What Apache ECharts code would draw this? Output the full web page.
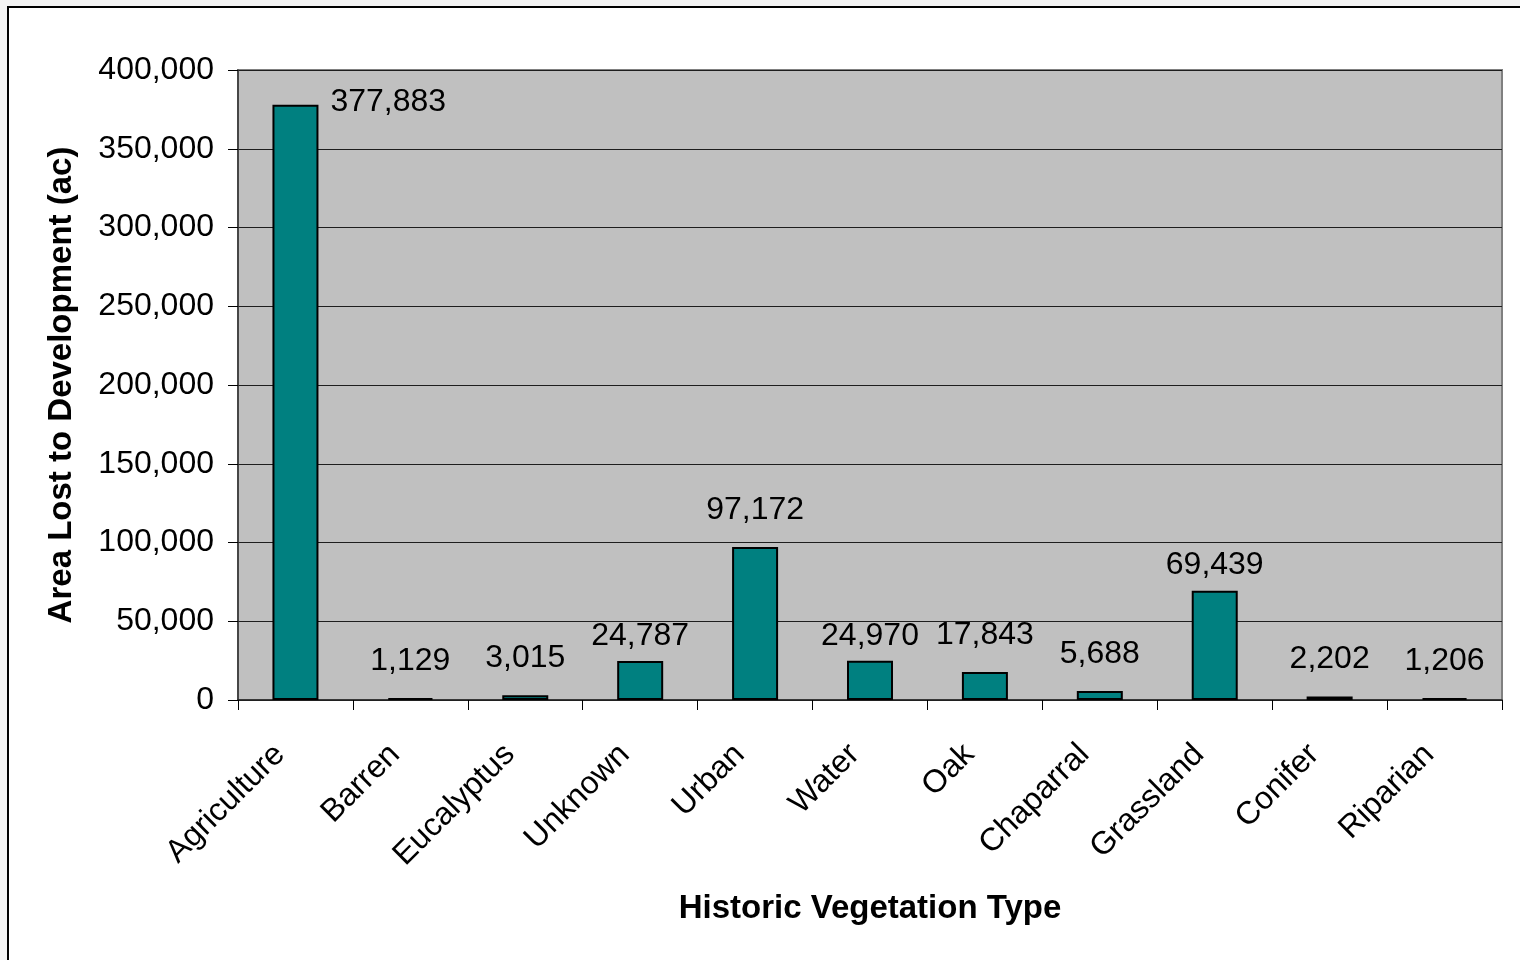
<!DOCTYPE html>
<html>
<head>
<meta charset="utf-8">
<title>Area Lost to Development by Historic Vegetation Type</title>
<script src="https://cdn.jsdelivr.net/npm/echarts@6/dist/echarts.min.js"></script>
<style>
  html, body { margin: 0; padding: 0; background: #f3f3f3; }
  #chart { width: 1520px; height: 960px; }
</style>
</head>
<body>
<div id="chart"></div>
<script>
const CATEGORIES = [
  "Agriculture", "Barren", "Eucalyptus", "Unknown", "Urban", "Water",
  "Oak", "Chaparral", "Grassland", "Conifer", "Riparian"
];
const AREA_LOST = [377883, 1129, 3015, 24787, 97172, 24970, 17843, 5688, 69439, 2202, 1206];
const Y_TICKS = [0, 50000, 100000, 150000, 200000, 250000, 300000, 350000, 400000];

const FONT = '"Liberation Sans", Arial, sans-serif';
const BAR_COLOR = "#008080";
const PLOT_BG = "#C0C0C0";

// labels that sit closer to their bar in the original
const CLOSE_LABELS = new Set(["Unknown", "Water", "Grassland"]);

const fmt = (v) => v.toLocaleString("en-US");

const chart = echarts.init(document.getElementById("chart"), null, { renderer: "canvas" });

const barData = AREA_LOST.map((value, i) => {
  const name = CATEGORIES[i];
  if (i === 0) {
    return {
      value,
      label: { position: [58, -3], align: "left", verticalAlign: "middle" },
    };
  }
  return {
    value,
    label: { distance: CLOSE_LABELS.has(name) ? 9 : 21 },
  };
});

chart.setOption({
  backgroundColor: "transparent",
  animation: false,
  graphic: [
    {
      type: "rect",
      z: -10,
      silent: true,
      shape: { x: 8, y: 7, width: 1540, height: 990 },
      style: { fill: "#ffffff", stroke: "#000000", lineWidth: 2 },
    },
  ],
  grid: {
    left: 238,
    right: 18,
    top: 70,
    bottom: 260,
    containLabel: false,
    show: true,
    backgroundColor: PLOT_BG,
    borderColor: "#808080",
    borderWidth: 2,
  },
  xAxis: {
    type: "category",
    data: CATEGORIES,
    name: "Historic Vegetation Type",
    nameLocation: "middle",
    nameGap: 192,
    nameTextStyle: { fontFamily: FONT, fontSize: 33, fontWeight: "bold", color: "#000" },
    axisLine: { lineStyle: { color: "#222", width: 1.5 } },
    axisTick: { show: true, length: 10, lineStyle: { color: "#000", width: 1 } },
    axisLabel: {
      rotate: 45,
      margin: 34,
      interval: 0,
      padding: [0, 22, 0, 0],
      fontFamily: FONT,
      fontSize: 32,
      color: "#000",
    },
  },
  yAxis: {
    type: "value",
    min: 0,
    max: 400000,
    interval: 50000,
    name: "Area Lost to Development (ac)",
    nameLocation: "middle",
    nameGap: 160,
    nameRotate: 90,
    nameTextStyle: { fontFamily: FONT, fontSize: 33, fontWeight: "bold", color: "#000" },
    axisLine: { show: true, lineStyle: { color: "#333", width: 1.5 } },
    axisTick: { show: true, length: 10, lineStyle: { color: "#000", width: 1 } },
    axisLabel: {
      margin: 24,
      fontFamily: FONT,
      fontSize: 32,
      color: "#000",
      formatter: (v) => (Y_TICKS.includes(v) ? fmt(v) : ""),
    },
    splitLine: { show: true, lineStyle: { color: "#1e1e1e", width: 1 } },
  },
  series: [
    {
      type: "bar",
      data: barData,
      barWidth: 46,
      itemStyle: { color: BAR_COLOR, borderColor: "#000", borderWidth: 2 },
      label: {
        show: true,
        position: "top",
        fontFamily: FONT,
        fontSize: 32,
        color: "#000",
        formatter: (p) => fmt(p.value),
      },
    },
  ],
});
</script>
</body>
</html>
